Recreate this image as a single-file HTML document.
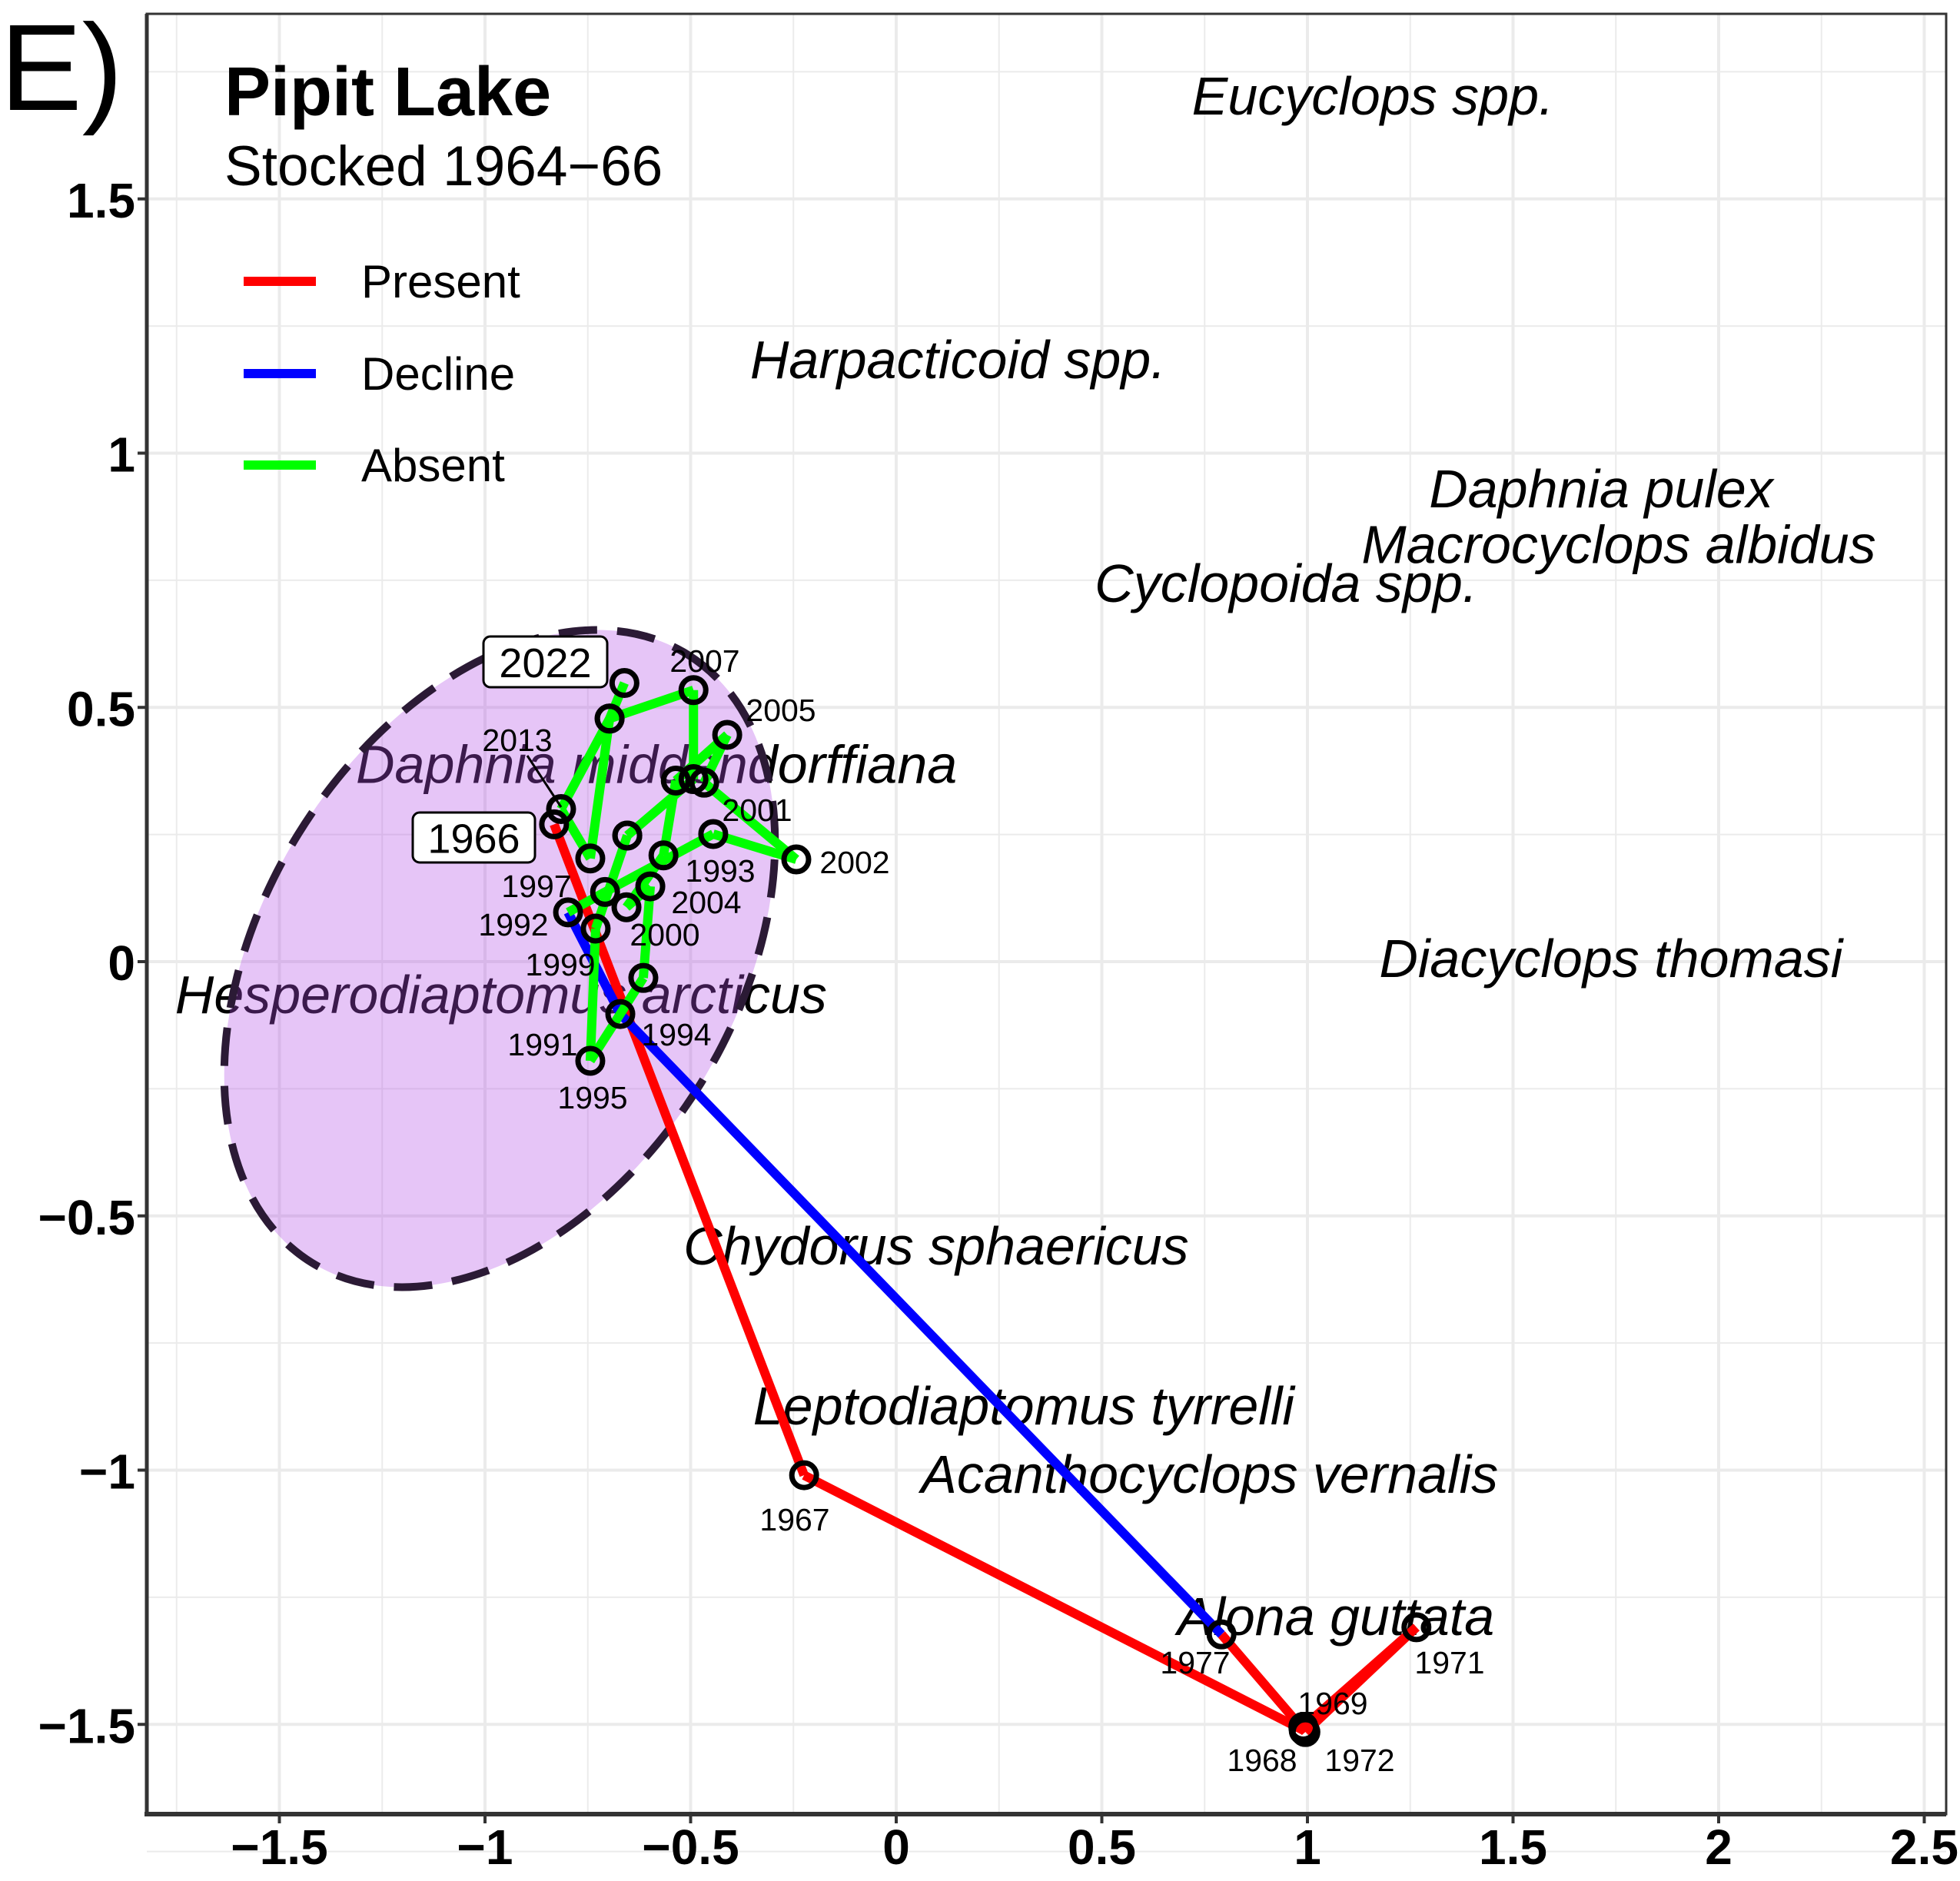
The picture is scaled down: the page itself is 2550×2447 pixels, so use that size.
<!DOCTYPE html>
<html><head><meta charset="utf-8"><style>
html,body{margin:0;padding:0;background:#fff}
svg{display:block}
text{font-family:"Liberation Sans",Arial,sans-serif}
</style></head><body>
<svg id="chart" width="2550" height="2447" viewBox="0 0 2550 2447" xmlns="http://www.w3.org/2000/svg">
<rect x="0" y="0" width="2550" height="2447" fill="#fff"/>
<g id="grid"></g>
<g id="species"></g>
<g id="ellipse"></g>
<g id="lines"></g>
<g id="points"></g>
<g id="ylabels"></g>
<g id="axes"></g>
<text x="0" y="143" font-size="160">E)</text>
<text x="292" y="150" font-size="90" font-weight="bold">Pipit Lake</text>
<text x="292" y="241" font-size="73">Stocked 1964−66</text>
<g>
<line x1="317" y1="366" x2="411" y2="366" stroke="#ff0000" stroke-width="12"/>
<text x="470" y="387" font-size="60">Present</text>
<line x1="317" y1="486" x2="411" y2="486" stroke="#0000ff" stroke-width="12"/>
<text x="470" y="507" font-size="60">Decline</text>
<line x1="317" y1="605" x2="411" y2="605" stroke="#00ff00" stroke-width="12"/>
<text x="470" y="626" font-size="60">Absent</text>
</g>
</svg>
<script>
const xTicks = [-1.5,-1,-0.5,0,0.5,1,1.5,2,2.5];
const xTickLabels = ["−1.5","−1","−0.5","0","0.5","1","1.5","2","2.5"];
const yTicks = [1.5,1,0.5,0,-0.5,-1,-1.5];
const yTickLabels = ["1.5","1","0.5","0","−0.5","−1","−1.5"];
const years = [1966,1967,1968,1969,1971,1972,1977,1991,1992,1993,1994,1995,1996,1997,1998,1999,2000,2001,2002,2003,2004,2005,2006,2007,2008,2009,2010,2013,2020,2022];
const xs = [-0.832,-0.224,0.991,0.99,1.265,0.995,0.791,-0.671,-0.798,-0.708,-0.445,-0.243,-0.467,-0.411,-0.536,-0.566,-0.656,-0.598,-0.615,-0.744,-0.731,-0.654,-0.654,-0.493,-0.493,-0.697,-0.744,-0.815,-0.697,-0.661];
const ys = [0.270,-1.010,-1.512,-1.505,-1.309,-1.515,-1.323,-0.103,0.097,0.137,0.251,0.201,0.352,0.446,0.356,0.209,0.107,0.148,-0.032,-0.195,0.065,0.248,0.248,0.359,0.534,0.478,0.203,0.300,0.478,0.548];
const status = ["P","P","P","P","P","P","D","D","A","A","A","A","A","A","A","A","A","A","A","A","A","A","A","A","A","A","A","A","A","A"];
const speciesNames = ["Eucyclops spp.","Harpacticoid spp.","Daphnia pulex","Macrocyclops albidus","Cyclopoida spp.","Daphnia middendorffiana","Diacyclops thomasi","Hesperodiaptomus arcticus","Chydorus sphaericus","Leptodiaptomus tyrrelli","Acanthocyclops vernalis","Alona guttata"];
const speciesX = [1.159,0.150,1.714,1.757,0.948,-0.583,1.738,-0.961,0.097,0.310,0.762,1.069];
const speciesY = [1.702,1.184,0.930,0.820,0.744,0.388,0.006,-0.065,-0.559,-0.874,-1.008,-1.288];

const L=191,T=18,R=2532,B=2360;
const X=v=>1166+535*v;
const Y=v=>1251-661.5*v;
const NS="http://www.w3.org/2000/svg";
function mk(tag,attrs,parent){const e=document.createElementNS(NS,tag);for(const k in attrs)e.setAttribute(k,attrs[k]);parent.appendChild(e);return e;}
const grid=document.getElementById('grid');
mk('rect',{x:L,y:T,width:R-L,height:B-T,fill:'#fff'},grid);
for(let v=-1.75;v<=2.6;v+=0.5){const l=mk('line',{x1:X(v),y1:T,x2:X(v),y2:B,stroke:'#ebebeb','stroke-width':2},grid);

}
for(let v=-1.75;v<=1.9;v+=0.5){const l=mk('line',{x1:L,y1:Y(v),x2:R,y2:Y(v),stroke:'#ebebeb','stroke-width':2},grid);

}
xTicks.forEach(v=>{const l=mk('line',{x1:X(v),y1:T,x2:X(v),y2:B,stroke:'#ebebeb','stroke-width':4},grid);

});
yTicks.forEach(v=>{const l=mk('line',{x1:L,y1:Y(v),x2:R,y2:Y(v),stroke:'#ebebeb','stroke-width':4},grid);

});

const sp=document.getElementById('species');
speciesNames.forEach((n,i)=>{const t=mk('text',{x:X(speciesX[i]),y:Y(speciesY[i]),'font-size':70,'font-style':'italic','text-anchor':'middle','dominant-baseline':'central',fill:'#000'},sp);t.textContent=n;

});

const eg=document.getElementById('ellipse');
const el=mk('ellipse',{cx:650,cy:1247,rx:465,ry:308,transform:'rotate(-58.3 650 1247)',fill:'rgb(178,79,230)','fill-opacity':0.33,stroke:'#2b1a35','stroke-width':10,'stroke-dasharray':'50 26'},eg);



const lg=document.getElementById('lines');
const col={P:'#ff0000',D:'#0000ff',A:'#00ff00'};
for(let i=0;i<years.length-1;i++){const l=mk('line',{x1:X(xs[i]),y1:Y(ys[i]),x2:X(xs[i+1]),y2:Y(ys[i+1]),stroke:col[status[i]],'stroke-width':12,'stroke-linecap':'butt'},lg);

}

const pg=document.getElementById('points');
years.forEach((yr,i)=>{const c=mk('circle',{cx:X(xs[i]),cy:Y(ys[i]),r:16,fill:'none',stroke:'#000','stroke-width':7},pg);

});

const yl=document.getElementById('ylabels');
const labs=[["2007",917,860],["2005",1016,924],["2013",673,963],["2001",985,1054],["2002",1112,1122],["1993",937,1133],["1997",698,1153],["2004",919,1174],["1992",668,1203],["2000",865,1216],["1999",729,1255],["1994",880,1346],["1991",706,1359],["1995",771,1428],["1967",1034,1977],["1977",1555,2163],["1971",1886,2163],["1969",1734,2216],["1968",1642,2290],["1972",1769,2290]];
const cn=mk('line',{x1:686,y1:983,x2:730,y2:1050,stroke:'#000','stroke-width':3},yl);


labs.forEach(a=>{const t=mk('text',{x:a[1],y:a[2],'font-size':41,'text-anchor':'middle','dominant-baseline':'central'},yl);t.textContent=a[0];

});
[["2022",629,828,161,66],["1966",537,1057,159,65]].forEach(a=>{const r=mk('rect',{x:a[1],y:a[2],width:a[3],height:a[4],rx:9,fill:'#fff',stroke:'#000','stroke-width':3},yl);


const t=mk('text',{x:a[1]+a[3]/2,y:a[2]+a[4]/2+2,'font-size':54,'text-anchor':'middle','dominant-baseline':'central'},yl);t.textContent=a[0];

});

const ax=document.getElementById('axes');
const fr=mk('rect',{x:L,y:T,width:R-L,height:B-T,fill:'none',stroke:'#333','stroke-width':3},ax);


const xl=mk('line',{x1:L-3,y1:B,x2:R,y2:B,stroke:'#333','stroke-width':6},ax);


const ylin=mk('line',{x1:L,y1:T,x2:L,y2:B,stroke:'#333','stroke-width':5},ax);


xTicks.forEach((v,i)=>{const l=mk('line',{x1:X(v),y1:B,x2:X(v),y2:B+12,stroke:'#333','stroke-width':4},ax);


const t=mk('text',{x:X(v),y:2403,'font-size':64,'font-weight':'bold','text-anchor':'middle','dominant-baseline':'central'},ax);t.textContent=xTickLabels[i];

});
yTicks.forEach((v,i)=>{const l=mk('line',{x1:L-12,y1:Y(v),x2:L,y2:Y(v),stroke:'#333','stroke-width':4},ax);


const t=mk('text',{x:176,y:Y(v)+2,'font-size':64,'font-weight':'bold','text-anchor':'end','dominant-baseline':'central'},ax);t.textContent=yTickLabels[i];

});
</script>
</body></html>
